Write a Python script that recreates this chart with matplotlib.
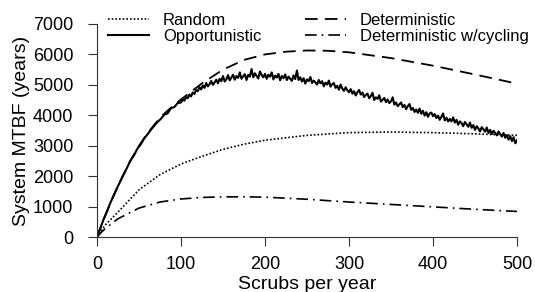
import numpy as np
import matplotlib
matplotlib.use("Agg")
import matplotlib.pyplot as plt

plt.rcParams['font.family'] = ['Liberation Sans', 'DejaVu Sans']

# smooth curves
det_x = [0, 10, 20, 30, 40, 50, 60, 70, 80, 90, 100, 125, 150, 175, 200, 225,
         250, 275, 300, 350, 400, 450, 500]
det_y = [0, 720, 1380, 1970, 2520, 3000, 3400, 3750, 4050, 4300, 4520, 5050,
         5500, 5820, 6000, 6090, 6130, 6120, 6070, 5880, 5630, 5340, 5040]

rnd_x = [0, 5, 10, 25, 50, 75, 100, 125, 150, 175, 200, 250, 300, 350, 400, 450, 500]
rnd_y = [0, 200, 400, 820, 1550, 2050, 2400, 2650, 2880, 3050, 3180, 3340,
         3430, 3450, 3430, 3390, 3340]

cyc_x = [0, 5, 10, 25, 50, 75, 100, 125, 150, 175, 200, 250, 300, 350, 400, 450, 500]
cyc_y = [0, 150, 280, 600, 950, 1150, 1250, 1300, 1320, 1320, 1310, 1240,
         1150, 1070, 990, 910, 840]

# noisy simulated curve: every 4 up to 100, then every 2
opp_x = list(range(0, 100, 4)) + list(range(100, 501, 2))
opp_y = [0, 300, 590, 850, 1130, 1370, 1620, 1840, 2070, 2290, 2520, 2680, 2900,
         3040, 3230, 3370, 3520, 3650, 3780, 3880, 4020, 4060, 4230, 4270, 4400,
         4420,
         4520, 4480, 4600, 4560, 4680, 4620, 4750, 4700, 4830, 4790,
         4920, 4850, 4980, 4900, 5060, 4950, 5020, 5130, 5000, 5080,
         5170, 5050, 5200, 5120, 5290, 5110, 5180, 5320, 5150, 5240,
         5330, 5170, 5290, 5230, 5410, 5200, 5280, 5350, 5160, 5330,
         5270, 5520, 5250, 5380, 5290, 5210, 5440, 5320, 5250, 5360,
         5200, 5330, 5270, 5410, 5180, 5300, 5240, 5360, 5150, 5290,
         5220, 5340, 5160, 5270, 5200, 5130, 5310, 5190, 5470, 5160,
         5250, 5110, 5220, 5040, 5180, 5120, 5260, 5060, 5140, 5080,
         5010, 5160, 5050, 5120, 4950, 5070, 5010, 5140, 4940, 5020,
         5060, 4900, 4970, 4840, 5010, 4880, 4800, 4920, 4820, 4760,
         4860, 4710, 4790, 4650, 4760, 4830, 4680, 4750, 4600, 4670,
         4710, 4560, 4630, 4740, 4500, 4590, 4540, 4660, 4450, 4510,
         4570, 4430, 4520, 4400, 4460, 4590, 4350, 4420, 4300, 4360,
         4420, 4270, 4340, 4200, 4300, 4370, 4180, 4240, 4110, 4190,
         4080, 4220, 4050, 4150, 3990, 4100, 3950, 4060, 4090, 3970,
         4040, 3910, 3990, 3850, 3950, 4060, 3830, 3920, 3800, 3880,
         3800, 3930, 3760, 3850, 3690, 3800, 3740, 3640, 3780, 3700,
         3620, 3760, 3590, 3680, 3520, 3640, 3570, 3470, 3610, 3540,
         3460, 3600, 3420, 3520, 3380, 3490, 3420, 3340, 3470, 3380,
         3300, 3420, 3260, 3350, 3200, 3310, 3150, 3280, 3080, 3180]

x_ticks = [0, 100, 200, 300, 400, 500]
y_ticks = [0, 1000, 2000, 3000, 4000, 5000, 6000, 7000]

fig = plt.figure(figsize=(5.35, 2.92), dpi=100)
ax = fig.add_axes([97 / 535, 1 - 237 / 292, 420 / 535, 213 / 292])

ax.plot(rnd_x, rnd_y, color="black", lw=1.2, linestyle=(0, (1, 1.2)), label="Random")
ax.plot(opp_x, opp_y, color="black", lw=1.5, label="Opportunistic")
ax.plot(det_x, det_y, color="black", lw=1.3, linestyle=(0, (7, 4)), label="Deterministic")
ax.plot(cyc_x, cyc_y, color="black", lw=1.2, linestyle=(0, (7, 3, 1, 3)),
        label="Deterministic w/cycling")

ax.set_xlim(0, 500)
ax.set_ylim(0, 7000)
ax.set_xticks(x_ticks)
ax.set_yticks(y_ticks)
for s in ["top", "right"]:
    ax.spines[s].set_visible(False)
for s in ["left", "bottom"]:
    ax.spines[s].set_linewidth(0.8)
    ax.spines[s].set_color("#333333")
ax.tick_params(axis="both", direction="out", length=6.5, width=0.8, color="#333333",
               labelsize=13)
ax.tick_params(axis="x", pad=7)
ax.tick_params(axis="y", pad=10.5)

ax.set_xlabel("Scrubs per year", fontsize=14, labelpad=2)
ax.set_ylabel("System MTBF (years)", fontsize=14, labelpad=2)

fig.legend(loc="upper left", bbox_to_anchor=(108 / 535, 1 - 13 / 292), ncol=2,
           frameon=False, fontsize=12.0, handlelength=2.45, handletextpad=0.85,
           columnspacing=2.6, labelspacing=0.05, borderpad=0, borderaxespad=0)

fig.savefig("out.png", dpi=100)
